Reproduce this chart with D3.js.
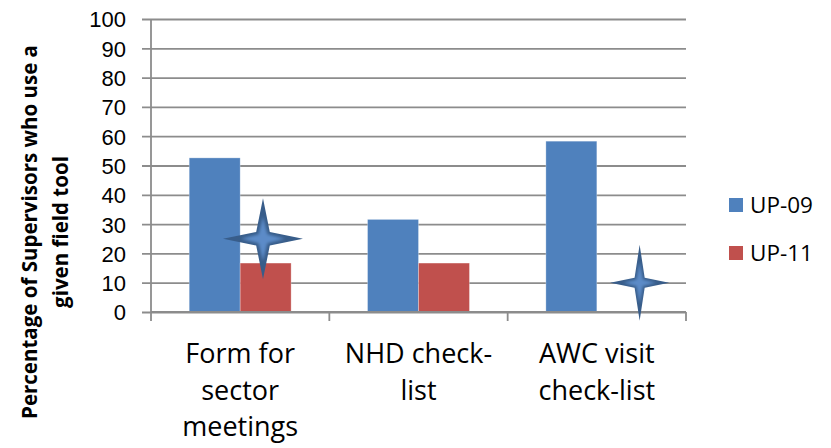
<!DOCTYPE html>
<html>
<head>
<meta charset="utf-8">
<script src="https://cdn.jsdelivr.net/npm/d3@7"></script>
<style>
  html, body { margin: 0; padding: 0; background: #fff; }
  svg { display: block; font-family: "Open Sans", "Noto Sans", sans-serif; }
</style>
</head>
<body>
<svg id="chart" width="831" height="448"></svg>
<script>
// Field tools used by supervisors, by district
const categories = [["Form for", "sector", "meetings"], ["NHD check-", "list"], ["AWC visit", "check-list"]];
const seriesNames = ["UP-09", "UP-11"];
const up09 = [52.6, 31.6, 58.3];
const up11 = [16.7, 16.7, 0];
const yTicks = [0, 10, 20, 30, 40, 50, 60, 70, 80, 90, 100];
// Star callouts: category index and value level
const starCategory = [0, 2];
const starValue = [25, 10];

const colors = ["#4F81BD", "#C0504D"];
const svg = d3.select("#chart");

const plot = { left: 151, right: 686, top: 19, bottom: 312 };

const x = d3.scaleBand()
  .domain(d3.range(categories.length))
  .range([plot.left, plot.right])
  .paddingInner(0).paddingOuter(0);

// Two bars per group; gap between groups is 1.5 bar widths
const barW = x.bandwidth() / 3.5;
const x1 = d3.scaleBand().domain(seriesNames).range([0.75 * barW, 2.75 * barW]);

const y = d3.scaleLinear().domain([0, 100]).range([plot.bottom, plot.top]);

// Gridlines + left ticks
const yAxis = d3.axisLeft(y).tickValues(yTicks).tickSize(-(plot.right - plot.left)).tickSizeOuter(0).tickFormat(d3.format("d"));
const gy = svg.append("g").attr("transform", `translate(${plot.left},0)`).call(yAxis);
gy.select(".domain").remove();
gy.selectAll(".tick line").attr("stroke", "#8c8c8c").attr("stroke-width", 1.8).attr("x1", -9);
gy.selectAll(".tick text").attr("x", -25).attr("dy", "0.36em")
  .attr("font-size", 22).attr("fill", "#000");

// Bars
const series = [up09, up11];
const groups = svg.append("g").selectAll("g").data(series).join("g")
  .attr("fill", (d, i) => colors[i]);
groups.selectAll("rect").data((d, si) => d.map((v, ci) => ({ v, ci, si })))
  .join("rect")
  .attr("x", d => x(d.ci) + x1(seriesNames[d.si]))
  .attr("width", x1.bandwidth())
  .attr("y", d => y(d.v))
  .attr("height", d => y(0) - y(d.v))
  .attr("stroke", "rgba(255,255,255,0.35)")
  .attr("stroke-width", 0.8);

// Vertical axis line
svg.append("line")
  .attr("x1", plot.left).attr("x2", plot.left)
  .attr("y1", plot.top).attr("y2", plot.bottom)
  .attr("stroke", "#8c8c8c").attr("stroke-width", 1.8);

// Category axis
const gx = svg.append("g").attr("transform", `translate(0,${plot.bottom})`);
gx.append("line").attr("x1", plot.left).attr("x2", plot.right)
  .attr("stroke", "#8c8c8c").attr("stroke-width", 1.8);
const boundaries = d3.range(categories.length + 1).map(i => plot.left + i * x.bandwidth());
gx.selectAll("line.tk").data(boundaries).join("line").attr("class", "tk")
  .attr("x1", d => d).attr("x2", d => d).attr("y1", 0).attr("y2", 9)
  .attr("stroke", "#8c8c8c").attr("stroke-width", 1.8);

const catText = gx.selectAll("text").data(categories).join("text")
  .attr("text-anchor", "middle")
  .attr("font-size", 27)
  .attr("fill", "#000")
  .attr("transform", (d, i) => `translate(${x(i) + x.bandwidth() / 2},51)`);
catText.selectAll("tspan").data(d => d).join("tspan")
  .attr("x", 0).attr("y", (d, i) => i * 36.7).text(d => d);

// Y axis title (two lines, rotated)
const yt = svg.append("text")
  .attr("transform", "translate(37,232) rotate(-90)")
  .attr("text-anchor", "middle")
  .attr("font-size", 20.5).attr("font-weight", "bold").attr("fill", "#000");
yt.append("tspan").attr("x", 0).attr("y", 0).text("Percentage of Supervisors who use a");
yt.append("tspan").attr("x", 0).attr("y", 31).text("given field tool");

// Legend
const legend = svg.append("g").selectAll("g").data(seriesNames).join("g")
  .attr("transform", (d, i) => `translate(729,${198 + i * 48})`);
legend.append("rect").attr("width", 14).attr("height", 14).attr("fill", (d, i) => colors[i]);
legend.append("text").attr("x", 21).attr("y", 14.5)
  .attr("font-size", 22.5).attr("fill", "#000").text(d => d);

// Four-point star callouts
const defs = svg.append("defs");
defs.append("filter").attr("id", "soft").append("feGaussianBlur").attr("stdDeviation", 1.4);
function starPath(rx, ry, w) {
  return `M0,${-ry} L${w},${-w} L${rx},0 L${w},${w} L0,${ry} L${-w},${w} L${-rx},0 L${-w},${-w}Z`;
}
const starFrac = [0.628, 0.74];
const starSize = [[40, 40.5], [29.5, 38]];
starCategory.forEach((ci, k) => {
  const cx = x(ci) + starFrac[k] * x.bandwidth();
  const cy = y(starValue[k]);
  const [rx, ry] = starSize[k];
  const g = svg.append("g").attr("transform", `translate(${cx},${cy})`);
  g.append("path").attr("d", starPath(rx, ry, Math.min(rx, ry) * 0.17)).attr("fill", "#385D8A");
  g.append("path").attr("d", starPath(rx * 0.55, ry * 0.55, Math.min(rx, ry) * 0.11))
    .attr("fill", "#5B8BC8").attr("filter", "url(#soft)");
});
</script>
</body>
</html>
